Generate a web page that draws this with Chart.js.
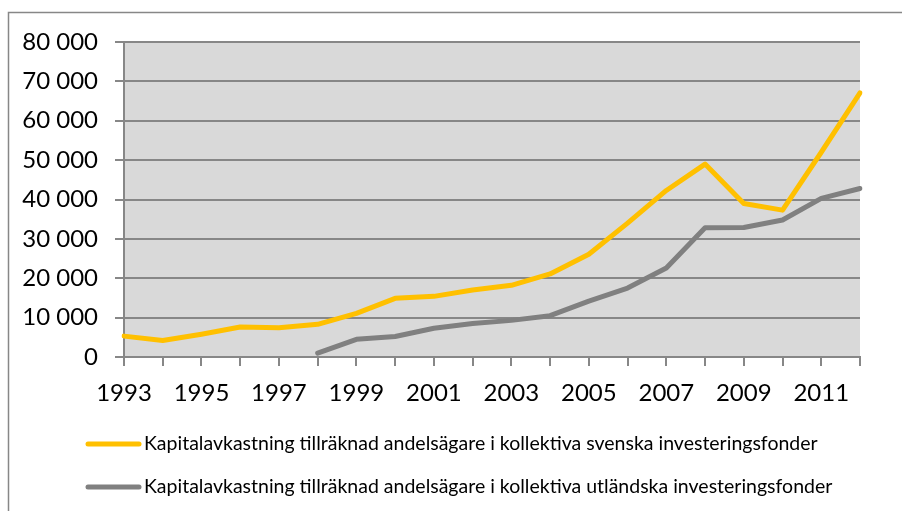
<!DOCTYPE html>
<html><head><meta charset="utf-8">
<script src="https://cdn.jsdelivr.net/npm/chart.js@4"></script>
<style>html,body{margin:0;padding:0;background:#fff}#wrap{width:902px;height:511px}</style>
</head><body><div id="wrap"><canvas id="c" width="902" height="511"></canvas></div>
<script>
const years = ['1993','1994','1995','1996','1997','1998','1999','2000','2001','2002','2003','2004','2005','2006','2007','2008','2009','2010','2011','2012'];
const svenska = [5300, 4200, 5800, 7600, 7400, 8300, 11100, 14900, 15400, 17000, 18200, 21100, 26100, 34000, 42300, 49000, 39000, 37300, 52000, 67100];
const utlandska = [null, null, null, null, null, 1000, 4500, 5200, 7300, 8500, 9300, 10500, 14200, 17500, 22600, 32800, 32900, 34800, 40300, 42800];
const seriesLabels = [
  'Kapitalavkastning tillräknad andelsägare i kollektiva svenska investeringsfonder',
  'Kapitalavkastning tillräknad andelsägare i kollektiva utländska investeringsfonder'
];
const seriesColors = ['#FFC000', '#808080'];
const yMin = 0, yMax = 80000, yStep = 10000;

const FONT = 'Lato';
const GRID = '#878787';

function fmt(v){ return String(v).replace(/\B(?=(\d{3})+(?!\d))/g, ' '); }

const bgPlugin = {
  id: 'bg',
  beforeDraw(chart){
    const {ctx, chartArea:a} = chart;
    ctx.save();
    ctx.fillStyle = '#d9d9d9';
    ctx.fillRect(a.left, a.top, a.right - a.left, a.bottom - a.top);
    ctx.strokeStyle = GRID;
    ctx.lineWidth = 1.5;
    ctx.strokeRect(8.5, 12.5, 1200, 1200);
    ctx.restore();
  }
};

const legendPlugin = {
  id: 'customLegend',
  afterDraw(chart){
    const {ctx} = chart;
    ctx.save();
    ctx.font = '19.5px ' + FONT;
    ctx.textBaseline = 'middle';
    chart.data.datasets.forEach((ds, i) => {
      const y = 444 + i * 43;
      ctx.strokeStyle = ds.borderColor;
      ctx.lineWidth = 5;
      ctx.lineCap = 'round';
      ctx.beginPath();
      ctx.moveTo(88, y);
      ctx.lineTo(139, y);
      ctx.stroke();
      ctx.fillStyle = '#000';
      ctx.fillText(ds.label, 144, y);
    });
    ctx.restore();
  }
};

new Chart(document.getElementById('c'), {
  type: 'line',
  data: {
    labels: years,
    datasets: [
      {label: seriesLabels[0], data: svenska, borderColor: seriesColors[0], backgroundColor: seriesColors[0]},
      {label: seriesLabels[1], data: utlandska, borderColor: seriesColors[1], backgroundColor: seriesColors[1]}
    ].map(d => Object.assign(d, {borderWidth: 5, pointRadius: 0, tension: 0, borderJoinStyle: 'round', borderCapStyle: 'round', fill: false, spanGaps: false}))
  },
  options: {
    responsive: false,
    animation: false,
    layout: {padding: {left: 0, right: 42, top: 42, bottom: 94}},
    plugins: {legend: {display: false}, tooltip: {enabled: false}},
    scales: {
      x: {
        type: 'category',
        offset: false,
        grid: {drawOnChartArea: false, drawTicks: true, tickLength: 9, color: GRID, lineWidth: 2},
        border: {display: true, color: GRID, width: 2},
        ticks: {autoSkip: false, maxRotation: 0, minRotation: 0, padding: 13, color: '#000',
          font: {family: FONT, size: 24},
          callback: (v, i) => i % 2 === 0 ? years[i] : ''},
        afterFit(s){ s.height = 60; }
      },
      y: {
        min: yMin, max: yMax,
        grid: {color: GRID, lineWidth: 2, tickLength: 9, drawTicks: true},
        border: {display: true, color: GRID, width: 2},
        ticks: {stepSize: yStep, padding: 17, color: '#000', font: {family: FONT, size: 24},
          callback: v => fmt(v)},
        afterFit(s){ s.width = 124; }
      }
    }
  },
  plugins: [bgPlugin, legendPlugin]
});
</script>
</body></html>
